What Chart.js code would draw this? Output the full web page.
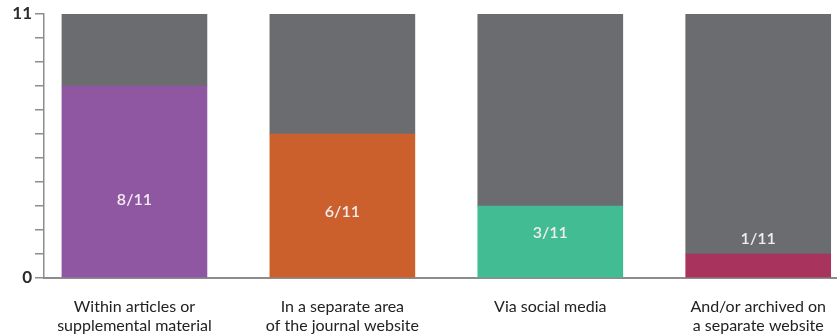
<!DOCTYPE html>
<html>
<head>
<meta charset="utf-8">
<script src="https://cdn.jsdelivr.net/npm/chart.js@4"></script>
<style>
  html, body { margin:0; padding:0; background:#fff; }
  #wrap { width:837px; height:334px; }
</style>
</head>
<body>
<div id="wrap"><canvas id="c" width="837" height="334"></canvas></div>
<script>
// ── Data ──────────────────────────────────────────────
const categories = [
  ['Within articles or', 'supplemental material'],
  ['In a separate area', 'of the journal website'],
  ['Via social media'],
  ['And/or archived on', 'a separate website']
];
const total      = 11;
const yes        = [8, 6, 3, 1];
const rest       = yes.map(v => total - v);
const barLabels  = ['8/11', '6/11', '3/11', '1/11'];
const yTickShown = [0, 11];

const barColors = ['#8f56a1', '#cc602c', '#42bc92', '#a8335c'];
const restColor = '#6b6c70';
const axisColor = '#8c8c8c';
const FONT = 'Lato, "DejaVu Sans", sans-serif';

// text inside bars, anchored at a value on the y scale
const barText = {
  id: 'barText',
  afterDatasetsDraw(chart, args, opts) {
    const { ctx } = chart;
    const meta = chart.getDatasetMeta(0);
    ctx.save();
    ctx.font = '600 16px ' + FONT;
    ctx.fillStyle = '#f1ecf2';
    ctx.textAlign = 'center';
    ctx.textBaseline = 'middle';
    meta.data.forEach((bar, i) => {
      const y = chart.scales.y.getPixelForValue(opts.anchors[i]);
      ctx.fillText(barLabels[i], bar.x, y);
    });
    ctx.restore();
  }
};

new Chart(document.getElementById('c'), {
  type: 'bar',
  data: {
    datasets: [
      { data: yes.map((v, i) => ({ x: i, y: v })), backgroundColor: barColors, borderWidth: 0, barThickness: 145 },
      { data: rest.map((v, i) => ({ x: i, y: v })), backgroundColor: restColor, borderWidth: 0, barThickness: 145 }
    ]
  },
  options: {
    responsive: false,
    animation: false,
    layout: { padding: { top: 14, right: 0, left: 0, bottom: 0 } },
    plugins: {
      legend: { display: false },
      tooltip: { enabled: false },
      barText: { anchors: [3.25, 2.75, 1.9, 1.65] }
    },
    scales: {
      x: {
        type: 'linear', stacked: true, offset: false,
        min: -0.435, max: 3.377,
        afterBuildTicks: s => { s.ticks = categories.map((_, i) => ({ value: i })); },
        afterFit: s => { s.height = 56; },
        grid: { display: false, offset: false },
        border: { color: axisColor, width: 2 },
        ticks: {
          padding: 11, color: '#222', autoSkip: false, maxRotation: 0,
          font: { family: FONT, size: 16 }, lineHeight: 1.35,
          callback: v => categories[v] || ''
        }
      },
      y: {
        stacked: true, min: 0, max: total,
        afterFit: s => { s.width = 44; },
        grid: { drawOnChartArea: false, color: axisColor, tickLength: 9, lineWidth: 1.5 },
        border: { color: axisColor, width: 1.5 },
        ticks: {
          stepSize: 1, padding: 3, color: '#2b2b2b',
          font: { family: FONT, size: 17, weight: 'bold' },
          callback: v => yTickShown.includes(v) ? String(v) : ''
        }
      }
    }
  },
  plugins: [barText]
});
</script>
</body>
</html>
